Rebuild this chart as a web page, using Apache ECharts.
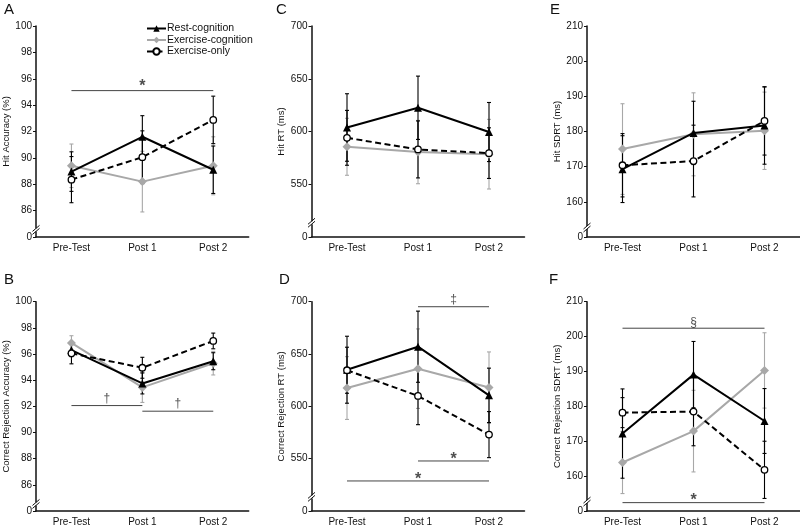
<!DOCTYPE html>
<html><head><meta charset="utf-8">
<script src="https://cdn.jsdelivr.net/npm/echarts@6/dist/echarts.min.js"></script>
<style>html,body{margin:0;padding:0;background:#fff}#c{width:800px;height:527px}</style>
</head><body><div id="c"></div>
<script>
const categories = ['Pre-Test', 'Post 1', 'Post 2'];
const seriesNames = ['Rest-cognition', 'Exercise-cognition', 'Exercise-only'];

// A: Hit Accuracy (%)  rows: rest, exCog, exOnly
const hitAccMean = [[88.96, 91.6, 89.1], [89.4, 88.2, 89.4], [88.35, 90.05, 92.88]];
const hitAccSE   = [[1.5, 1.6, 1.8], [1.65, 2.3, 2.2], [1.75, 2.0, 1.8]];
// B: Correct Rejection Accuracy (%)
const crAccMean = [[96.3, 93.75, 95.45], [96.85, 93.45, 95.3], [96.05, 94.95, 97.0]];
const crAccSE   = [[0.5, 0.8, 0.65], [0.55, 1.15, 0.9], [0.8, 0.8, 0.6]];
// C: Hit RT (ms)
const hitRTMean = [[603.8, 622.5, 599.5], [585.5, 580.5, 578.5], [594, 583, 579.5]];
const hitRTSE   = [[32, 30, 28], [27, 30, 33], [26, 27, 24]];
// D: Correct Rejection RT (ms)
const crRTMean = [[635, 657, 610.5], [617.5, 636, 618], [634.5, 610, 573]];
const crRTSE   = [[32, 34, 26], [30, 38, 34], [22, 27.5, 22]];
// E: Hit SDRT (ms)
const hitSDMean = [[169.3, 179.6, 181.7], [175, 179.2, 180.2], [170.4, 171.6, 183]];
const hitSDSE   = [[9.5, 9, 11], [12.9, 11.8, 11], [9, 10.2, 9.7]];
// F: Correct Rejection SDRT (ms)
const crSDMean = [[172.2, 189.1, 175.8], [163.9, 172.9, 190.3], [178.2, 178.5, 161.8]];
const crSDSE   = [[12.8, 9.5, 9.3], [8.9, 11.7, 10.8], [4.3, 9.8, 8.2]];

// y-axis ticks: [broken-min (shown as 0), max, interval]
const hitAccTicks = [84, 100, 2];
const crAccTicks = [84, 100, 2];
const hitRTTicks = [500, 700, 50];
const crRTTicks = [500, 700, 50];
const hitSDTicks = [150, 210, 10];
const crSDTicks = [150, 210, 10];

// significance bars: [fromCategory, toCategory, value]; marks: [x, value, symbol]
const hitAccSigLines = [[0, 2, 95.1]];
const hitAccSigMarks = [[1, 95.7, '*']];
const crAccSigLines = [[0, 1, 92.06], [1, 2, 91.63]];
const crAccSigMarks = [[0.5, 92.6, '†'], [1.5, 92.2, '†']];
const crRTSigLines = [[1, 2, 695.2], [1, 2, 547.8], [0, 2, 528.7]];
const crRTSigMarks = [[1.5, 702.2, '‡'], [1.5, 553.2, '*'], [1, 533.8, '*']];
const crSDSigLines = [[0, 2, 202.4], [0, 2, 152.4]];
const crSDSigMarks = [[1, 204.0, '§'], [1, 154.2, '*']];

const panels = [
  {letter: 'A', name: 'Hit Accuracy (%)', mean: hitAccMean, se: hitAccSE, ticks: hitAccTicks, lines: hitAccSigLines, marks: hitAccSigMarks, pos: {left: 36, top: 26, width: 212.7, height: 211}, nameGap: 22, lx: 4, ly: 2},
  {letter: 'C', name: 'Hit RT (ms)', mean: hitRTMean, se: hitRTSE, ticks: hitRTTicks, lines: [], marks: [], pos: {left: 311.5, top: 26, width: 213, height: 211}, nameGap: 25, lx: 276, ly: 2},
  {letter: 'E', name: 'Hit SDRT (ms)', mean: hitSDMean, se: hitSDSE, ticks: hitSDTicks, lines: [], marks: [], pos: {left: 587, top: 26, width: 213, height: 211}, nameGap: 25, lx: 550, ly: 2},
  {letter: 'B', name: 'Correct Rejection Accuracy (%)', mean: crAccMean, se: crAccSE, ticks: crAccTicks, lines: crAccSigLines, marks: crAccSigMarks, pos: {left: 36, top: 301.7, width: 212.7, height: 210}, nameGap: 25, lx: 4, ly: 272},
  {letter: 'D', name: 'Correct Rejection RT (ms)', mean: crRTMean, se: crRTSE, ticks: crRTTicks, lines: crRTSigLines, marks: crRTSigMarks, pos: {left: 311.5, top: 301.7, width: 213, height: 210}, nameGap: 25, lx: 279, ly: 272},
  {letter: 'F', name: 'Correct Rejection SDRT (ms)', mean: crSDMean, se: crSDSE, ticks: crSDTicks, lines: crSDSigLines, marks: crSDSigMarks, pos: {left: 587, top: 301.7, width: 213, height: 210}, nameGap: 25, lx: 549, ly: 272}
];

const FONT = 'Liberation Sans, Arial, sans-serif';
const styles = [
  {color: '#000', symbol: 'triangle', size: 8, fill: '#000', type: 'solid', z: 5},
  {color: '#a8a8a8', symbol: 'diamond', size: 9, fill: '#a8a8a8', type: 'solid', z: 4},
  {color: '#000', symbol: 'circle', size: 6.5, fill: '#fff', type: [6, 3.5], z: 6}
];

const grids = [], xAxes = [], yAxes = [], series = [], graphics = [];
panels.forEach((p, i) => {
  grids.push(Object.assign({containLabel: false}, p.pos));
  xAxes.push({
    type: 'category', gridIndex: i, data: categories, boundaryGap: true,
    axisLine: {onZero: false, lineStyle: {color: '#111', width: 1.5}},
    axisTick: {alignWithLabel: true, length: 4, lineStyle: {color: '#111'}},
    axisLabel: {fontFamily: FONT, fontSize: 10, color: '#111', margin: 6},
    splitLine: {show: false}
  });
  xAxes.push({type: 'value', gridIndex: i, min: -0.5, max: 2.5, show: false});
  const [mn, mx, iv] = p.ticks;
  yAxes.push({
    type: 'value', gridIndex: i, min: mn, max: mx, interval: iv,
    name: p.name, nameLocation: 'middle', nameRotate: 90, nameGap: p.nameGap,
    nameTextStyle: {fontFamily: FONT, fontSize: 9.5, color: '#111'},
    axisLine: {show: true, onZero: false, lineStyle: {color: '#111', width: 1.5}},
    axisTick: {show: true, length: 3, lineStyle: {color: '#111'}},
    axisLabel: {fontFamily: FONT, fontSize: 10, color: '#111', margin: 4,
      formatter: v => (v === mn ? '0' : String(v))},
    splitLine: {show: false}
  });
  // error bars
  [1, 0, 2].forEach(g => {
    const st = styles[g];
    series.push({
      type: 'custom', xAxisIndex: 2 * i, yAxisIndex: i, z: g === 1 ? 1 : 2,
      silent: true,
      data: p.mean[g].map((m, k) => [k, m - p.se[g][k], m + p.se[g][k]]),
      encode: {x: 0, y: [1, 2]},
      renderItem: (params, api) => {
        const x = api.value(0);
        const a = api.coord([x, api.value(1)]);
        const b = api.coord([x, api.value(2)]);
        const c = 2;
        const s = {stroke: st.color, lineWidth: 1.1};
        return {type: 'group', children: [
          {type: 'line', shape: {x1: a[0], y1: a[1], x2: b[0], y2: b[1]}, style: s},
          {type: 'line', shape: {x1: a[0] - c, y1: a[1], x2: a[0] + c, y2: a[1]}, style: s},
          {type: 'line', shape: {x1: b[0] - c, y1: b[1], x2: b[0] + c, y2: b[1]}, style: s}
        ]};
      }
    });
  });
  // mean lines
  [1, 0, 2].forEach(g => {
    const st = styles[g];
    series.push({
      type: 'line', name: seriesNames[g], xAxisIndex: 2 * i, yAxisIndex: i, z: st.z,
      data: p.mean[g], symbol: st.symbol, symbolSize: st.size, showAllSymbol: true,
      lineStyle: {color: st.color, width: 2, type: st.type},
      itemStyle: {color: st.fill, borderColor: st.color, borderWidth: g === 2 ? 1.3 : 0},
      animation: false
    });
  });
  // significance bars
  p.lines.forEach(l => {
    series.push({
      type: 'line', xAxisIndex: 2 * i + 1, yAxisIndex: i, z: 3, silent: true,
      data: [[l[0], l[2]], [l[1], l[2]]], symbol: 'none',
      lineStyle: {color: '#444', width: 1}, animation: false
    });
  });
  p.marks.forEach(m => {
    const star = m[2] === '*';
    series.push({
      type: 'scatter', xAxisIndex: 2 * i + 1, yAxisIndex: i, z: 3, silent: true, clip: false,
      data: [[m[0], m[1]]], symbolSize: 1, itemStyle: {color: 'rgba(0,0,0,0)'},
      label: {show: true, position: 'inside', formatter: m[2], fontFamily: FONT,
        fontWeight: star ? 'bold' : 'normal',
        fontSize: star ? 16 : 12, color: '#222', offset: [0, star ? 4 : 0]},
      animation: false
    });
  });
  graphics.push({type: 'text', left: p.lx, top: p.ly,
    style: {text: p.letter, font: '15px ' + FONT, fill: '#111'}});
});

const chart = echarts.init(document.getElementById('c'), null, {renderer: 'canvas'});
chart.setOption({
  backgroundColor: '#fff',
  animation: false,
  grid: grids, xAxis: xAxes, yAxis: yAxes, series: series,
  legend: {
    data: seriesNames.map(n => n), orient: 'vertical', left: 141, top: 18,
    itemWidth: 19, itemHeight: 8, itemGap: 0.5,
    textStyle: {fontFamily: FONT, fontSize: 10.5, color: '#111', padding: [0, 0, 0, -4]},
    selectedMode: false
  },
  graphic: graphics
});

// axis break marks
const breaks = [];
panels.forEach((p, i) => {
  const [mn, , iv] = p.ticks;
  const pt = chart.convertToPixel({xAxisIndex: 2 * i + 1, yAxisIndex: i}, [-0.5, mn + iv * 0.27]);
  const x = pt[0], y = pt[1];
  breaks.push({type: 'rect', shape: {x: x - 2, y: y - 1.5, width: 4, height: 3}, style: {fill: '#fff'}, z: 100});
  breaks.push({type: 'line', shape: {x1: x - 3.5, y1: y + 1.5 + 3, x2: x + 3.5, y2: y + 1.5 - 3}, style: {stroke: '#111', lineWidth: 1}, z: 101});
  breaks.push({type: 'line', shape: {x1: x - 3.5, y1: y - 1.5 + 3, x2: x + 3.5, y2: y - 1.5 - 3}, style: {stroke: '#111', lineWidth: 1}, z: 101});
});
chart.setOption({graphic: graphics.concat(breaks)});
</script>
</body></html>
